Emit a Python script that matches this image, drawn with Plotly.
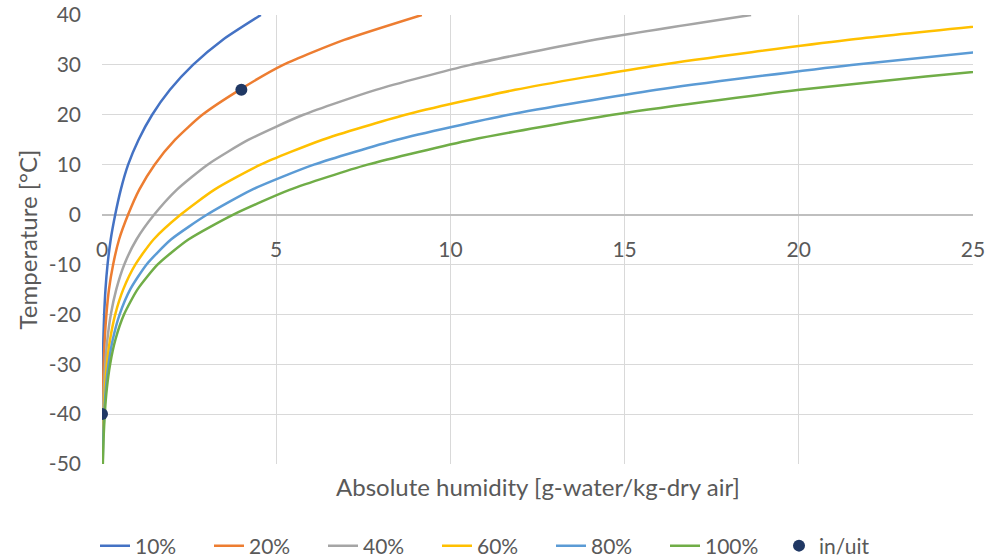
import plotly.graph_objects as go

# Temperature [°C]
temperature = [-50, -45, -40, -35, -30, -25, -20, -15, -10, -5, 0, 5, 10, 15, 20, 25, 30, 35, 40]

# Absolute humidity [g-water/kg-dry air]
rh10 = [0.002, 0.004, 0.008, 0.014, 0.023, 0.039, 0.063, 0.10, 0.16, 0.25, 0.38, 0.54, 0.75, 1.05, 1.44, 1.95, 2.61, 3.46, 4.56]
rh20 = [0.005, 0.009, 0.016, 0.027, 0.047, 0.078, 0.127, 0.20, 0.32, 0.49, 0.75, 1.07, 1.51, 2.10, 2.88, 3.95, 5.20, 6.95, 9.18]
rh40 = [0.010, 0.018, 0.032, 0.055, 0.093, 0.155, 0.254, 0.41, 0.64, 0.99, 1.50, 2.15, 3.03, 4.21, 5.78, 7.86, 10.57, 14.10, 18.63]
rh60 = [0.015, 0.027, 0.047, 0.082, 0.140, 0.233, 0.380, 0.61, 0.96, 1.48, 2.26, 3.23, 4.55, 6.33, 8.71, 11.86, 16.00, 21.39, 28.37]
rh80 = [0.019, 0.035, 0.063, 0.110, 0.187, 0.311, 0.507, 0.81, 1.28, 1.98, 3.02, 4.31, 6.08, 8.47, 11.67, 15.92, 21.51, 28.84, 38.41]
rh100 = [0.024, 0.044, 0.079, 0.137, 0.233, 0.388, 0.634, 1.02, 1.60, 2.48, 3.77, 5.40, 7.62, 10.62, 14.66, 20.02, 27.12, 36.48, 48.77]

series_names = ["10%", "20%", "40%", "60%", "80%", "100%"]
series_values = [rh10, rh20, rh40, rh60, rh80, rh100]
series_colors = ["#4472C4", "#ED7D31", "#A5A5A5", "#FFC000", "#5B9BD5", "#70AD47"]

# in/uit points
inuit_x = [0, 4]
inuit_y = [-40, 25]

x_ticks = [0, 5, 10, 15, 20, 25]
y_ticks = [-50, -40, -30, -20, -10, 0, 10, 20, 30, 40]

FONT = "Lato"
GREY = "#595959"

fig = go.Figure()
for name, vals, col in zip(series_names, series_values, series_colors):
    fig.add_trace(go.Scatter(
        x=vals, y=temperature, name=name, mode="lines",
        line=dict(color=col, width=2.5, shape="spline", smoothing=0.6),
    ))

fig.add_trace(go.Scatter(
    x=inuit_x, y=inuit_y, name="in/uit", mode="markers",
    marker=dict(color="#203864", size=12),
))

fig.update_layout(
    width=988, height=559,
    margin=dict(l=102, r=15, t=15, b=95),
    paper_bgcolor="white", plot_bgcolor="white",
    font=dict(family=FONT, size=21, color=GREY),
    showlegend=True,
    legend=dict(
        orientation="h", xref="container", yref="container",
        x=0.5, xanchor="center", y=0.0233, yanchor="middle",
        font=dict(family=FONT, size=21, color=GREY),
        entrywidth=69, entrywidthmode="pixels",
        bgcolor="rgba(0,0,0,0)",
    ),
    xaxis=dict(
        range=[0, 25], tickvals=x_ticks, ticktext=[str(v) for v in x_ticks],
        showgrid=True, gridcolor="#D9D9D9", gridwidth=1,
        zeroline=False, showline=False, ticks="",
        anchor="free", position=50 / 90,
        ticklabelstandoff=20, ticklabeloverflow="allow",
        automargin=False,
        tickfont=dict(family=FONT, size=21, color=GREY),
    ),
    yaxis=dict(
        range=[-50, 40], tickvals=y_ticks, ticktext=[str(v) for v in y_ticks],
        showgrid=True, gridcolor="#D9D9D9", gridwidth=1,
        zeroline=True, zerolinecolor="#BFBFBF", zerolinewidth=1.5,
        showline=False, ticks="",
        ticklabelstandoff=20, ticklabeloverflow="allow", automargin=False,
        tickfont=dict(family=FONT, size=21, color=GREY),
        title=dict(text="Temperature [°C]", standoff=4,
                   font=dict(family=FONT, size=24, color=GREY)),
    ),
    annotations=[dict(
        text="Absolute humidity [g-water/kg-dry air]",
        xref="paper", yref="paper", x=0.5, y=-0.049,
        xanchor="center", yanchor="middle", showarrow=False,
        font=dict(family=FONT, size=24, color=GREY),
    )],
)

fig.write_html(
    "out.html",
    config={"displayModeBar": False},
    post_script="document.body.style.margin='0';document.body.style.overflow='hidden';",
)
